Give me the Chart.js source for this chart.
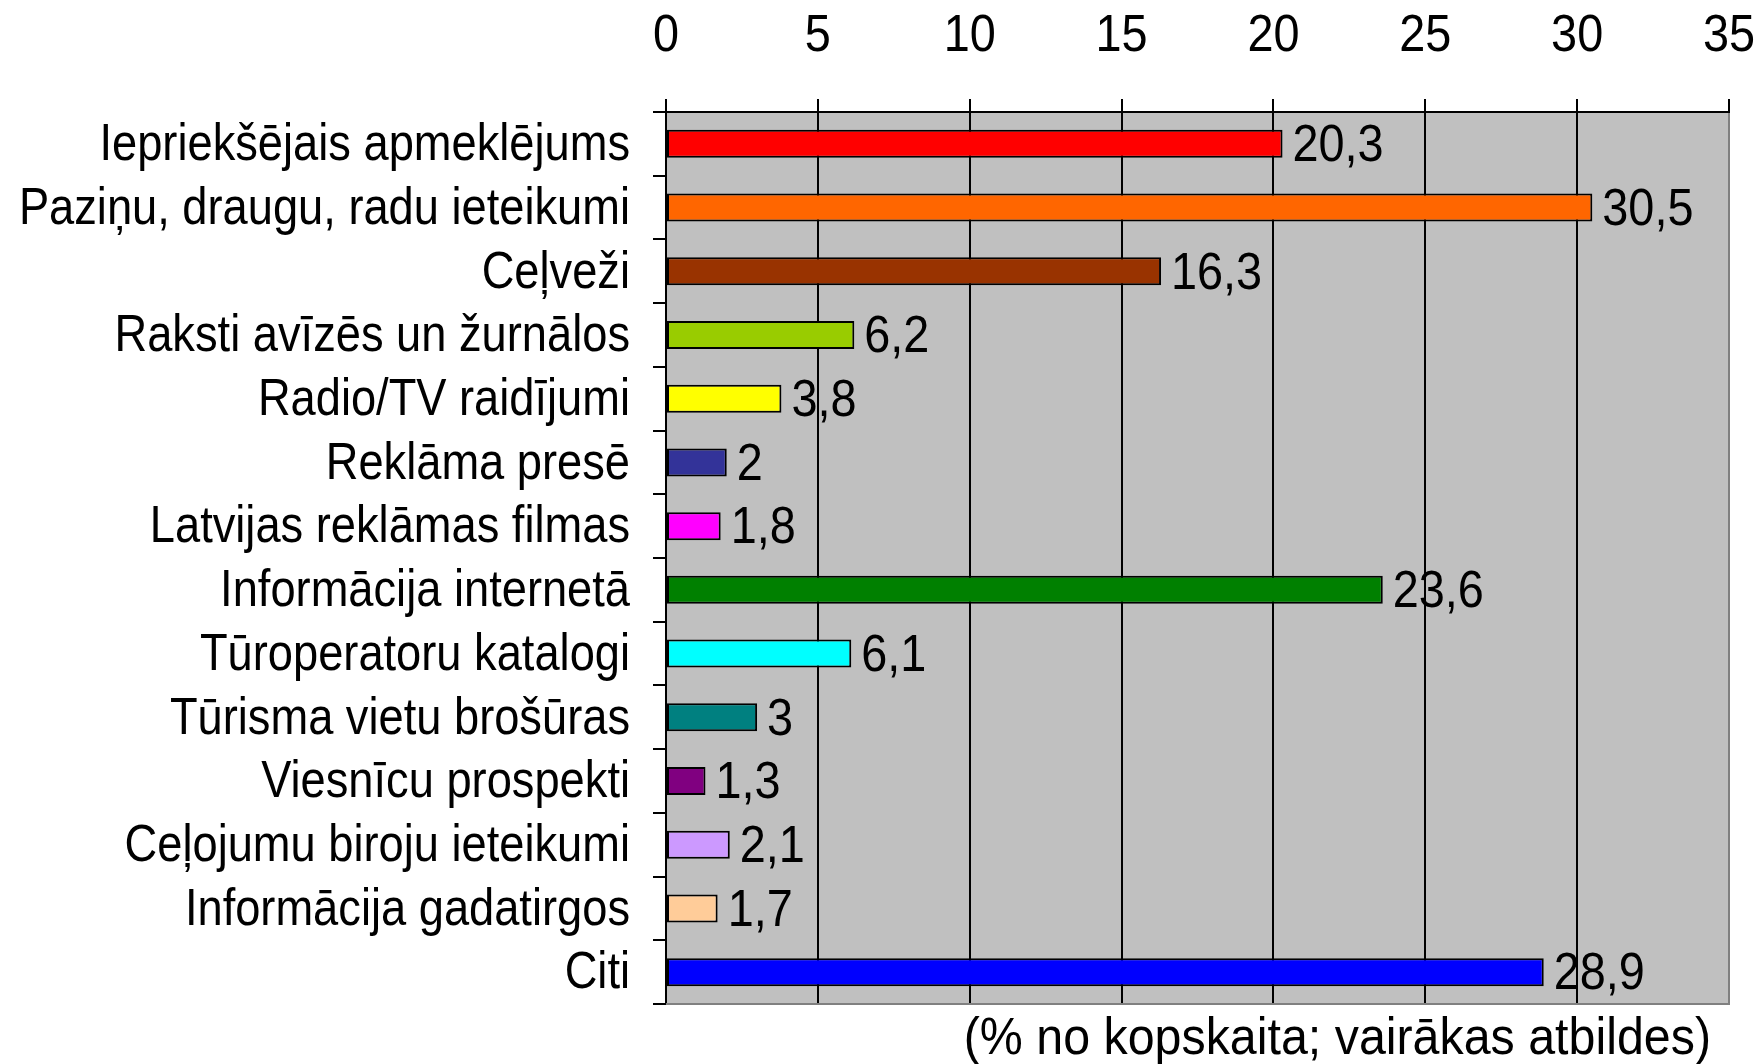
<!DOCTYPE html>
<html>
<head>
<meta charset="utf-8">
<script src="https://cdn.jsdelivr.net/npm/chart.js@4.4.1/dist/chart.umd.min.js"></script>
<style>
html,body{margin:0;padding:0;background:#fff;}
#wrap{width:1757px;height:1064px;position:relative;}
</style>
</head>
<body>
<div id="wrap"><canvas id="c"></canvas></div>
<script>
const categories = [
  "Iepriekšējais apmeklējums",
  "Paziņu, draugu, radu ieteikumi",
  "Ceļveži",
  "Raksti avīzēs un žurnālos",
  "Radio/TV raidījumi",
  "Reklāma presē",
  "Latvijas reklāmas filmas",
  "Informācija internetā",
  "Tūroperatoru katalogi",
  "Tūrisma vietu brošūras",
  "Viesnīcu prospekti",
  "Ceļojumu biroju ieteikumi",
  "Informācija gadatirgos",
  "Citi"
];
const values = [20.3, 30.5, 16.3, 6.2, 3.8, 2, 1.8, 23.6, 6.1, 3, 1.3, 2.1, 1.7, 28.9];
const barColors = ["#FF0000","#FF6600","#993300","#99CC00","#FFFF00","#333399","#FF00FF","#008000","#00FFFF","#008080","#800080","#CC99FF","#FFCC99","#0000FF"];
const axisMin = 0, axisMax = 35, axisStep = 5;
const footnote = "(% no kopskaita; vairākas atbildes)";

const FONT = "'Liberation Sans', Arial, sans-serif";
const FSIZE = 52;

function drawText(ctx, txt, x, y, align, sx) {
  ctx.save();
  ctx.translate(x, y);
  ctx.scale(sx, 1);
  ctx.textAlign = align;
  ctx.textBaseline = 'middle';
  ctx.fillText(txt, 0, 0);
  ctx.restore();
}

const bgPlugin = {
  id: 'bg',
  beforeDraw(chart) {
    const {ctx, chartArea: a} = chart;
    ctx.save();
    ctx.fillStyle = '#C0C0C0';
    ctx.fillRect(a.left, a.top, a.right - a.left, a.bottom - a.top);
    ctx.restore();
  },
  afterDatasetsDraw(chart) {
    const {ctx, chartArea: a} = chart;
    const xs = chart.scales.x, ys = chart.scales.y;
    ctx.save();
    ctx.strokeStyle = '#808080';
    ctx.lineWidth = 2;
    ctx.beginPath();
    ctx.moveTo(a.right, a.top + 1);
    ctx.lineTo(a.right, a.bottom);
    ctx.lineTo(a.left, a.bottom);
    ctx.stroke();
    ctx.fillStyle = '#000';
    ctx.font = FSIZE + 'px ' + FONT;
    // category labels
    categories.forEach((c, i) => {
      drawText(ctx, c, ys.right - 36, ys.getPixelForTick(i) + 2, 'right', 0.87);
    });
    // axis tick labels
    for (let v = axisMin; v <= axisMax; v += axisStep) {
      drawText(ctx, String(v), xs.getPixelForValue(v), 37, 'center', 0.9);
    }
    // value labels
    const meta = chart.getDatasetMeta(0);
    meta.data.forEach((bar, i) => {
      const txt = String(values[i]).replace('.', ',');
      drawText(ctx, txt, bar.x + 10, bar.y + 3, 'left', 0.9);
    });
    // footnote
    drawText(ctx, footnote, 1711, 1040, 'right', 0.93);
    ctx.restore();
  }
};

new Chart(document.getElementById('c'), {
  type: 'bar',
  data: {
    labels: categories,
    datasets: [{
      data: values,
      backgroundColor: barColors,
      borderColor: '#000',
      borderWidth: 2,
      borderSkipped: false,
      barPercentage: 0.44,
      categoryPercentage: 1.0
    }]
  },
  options: {
    indexAxis: 'y',
    responsive: true,
    maintainAspectRatio: false,
    animation: false,
    layout: { padding: { left: 0, right: 28, top: 0, bottom: 60 } },
    plugins: { legend: { display: false }, tooltip: { enabled: false } },
    scales: {
      x: {
        position: 'top',
        min: axisMin, max: axisMax,
        ticks: { stepSize: axisStep, display: false },
        grid: { color: '#000', lineWidth: 2, tickLength: 13, drawOnChartArea: true, drawTicks: true },
        border: { color: '#000', width: 2 },
        afterFit(s) { s.height = 112; s.paddingLeft = 0; s.paddingRight = 0; }
      },
      y: {
        position: 'left',
        ticks: { display: false, autoSkip: false },
        grid: { color: '#000', lineWidth: 2, tickLength: 13, drawOnChartArea: false, drawTicks: true, offset: true },
        border: { color: '#000', width: 2 },
        afterFit(s) { s.width = 666; s.paddingTop = 0; s.paddingBottom = 0; }
      }
    }
  },
  plugins: [bgPlugin]
});
</script>
</body>
</html>
